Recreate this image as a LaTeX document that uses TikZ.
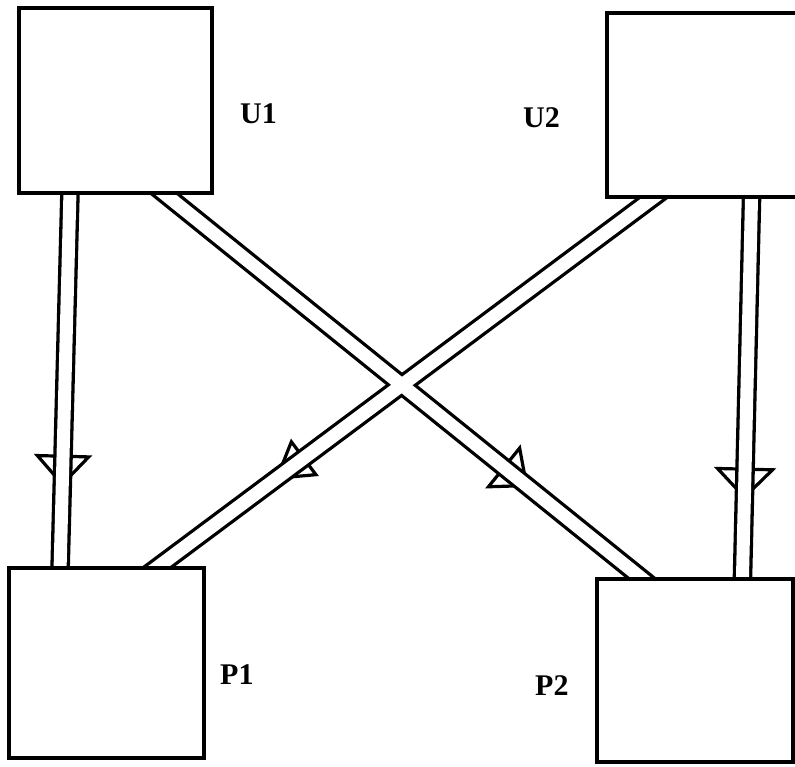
\documentclass[tikz,border=0pt]{standalone}
\usepackage{fontspec}
\setmainfont{Liberation Serif}
\usetikzlibrary{arrows.meta,decorations.markings,calc,backgrounds}

\tikzset{
  box/.style={draw, line width=3.4pt, inner sep=0pt, outer sep=0pt},
  lbl/.style={font=\fontsize{30}{36}\selectfont\bfseries, anchor=base west, inner sep=0pt},
  flowmark/.style n args={3}{decorate, decoration={markings,
      mark=at position #1 with {\arrow{Triangle[open, length=#2, width=#3, line width=3.2pt]}}}},
  railout/.style={draw=black, line width=19.6pt, shorten <=-14pt, shorten >=-14pt},
  railin/.style={draw=white, line width=13pt, shorten <=-14pt, shorten >=-14pt},
}

\begin{document}
\begin{tikzpicture}[x=1pt, y=-1pt]
  \clip (0,0) rectangle (795,766);

  % units and ports
  \node[box, minimum width=193pt, minimum height=185pt] (U1) at (115.5,100.5) {};
  \node[box, minimum width=193pt, minimum height=184pt] (U2) at (703.5,105) {};
  \node[box, minimum width=195pt, minimum height=190pt] (P1) at (106.5,663) {};
  \node[box, minimum width=196pt, minimum height=183pt] (P2) at (695,670.5) {};

  \node[lbl] (tU1) at (240,123) {U1};
  \node[lbl] (tU2) at (523,127) {U2};
  \node[lbl] (tP1) at (220,684) {P1};
  \node[lbl] (tP2) at (535,695) {P2};

  % connector ends on the box edges
  \coordinate (u1l) at ($(U1.south west)!0.264!(U1.south east)$);
  \coordinate (u1r) at ($(U1.south west)!0.749!(U1.south east)$);
  \coordinate (u2l) at ($(U2.south west)!0.2435!(U2.south east)$);
  \coordinate (u2r) at ($(U2.south west)!0.749!(U2.south east)$);
  \coordinate (p1l) at ($(P1.north west)!0.262!(P1.north east)$);
  \coordinate (p1r) at ($(P1.north west)!0.756!(P1.north east)$);
  \coordinate (p2l) at ($(P2.north west)!0.232!(P2.north east)$);
  \coordinate (p2r) at ($(P2.north west)!0.742!(P2.north east)$);

  \begin{scope}[on background layer]
    % open arrowheads, partly hidden by the rails
    \path[flowmark={0.783}{32pt}{58pt}] (u1l) -- (p1l);
    \path[flowmark={0.792}{32pt}{62pt}] (u2r) -- (p2r);
    \path[flowmark={0.762}{33pt}{56pt}] (u1r) -- (p2l);
    \path[flowmark={0.763}{38pt}{46pt}] (u2l) -- (p1r);
    % double rails, cut square at the box edges
    \begin{scope}
      \clip (0,0 |- U1.south) -- (U1.south east) |- (U2.south west)
            -- (U2.south east) |- (P2.north east) -- (P2.north west)
            |- (P1.north east) -- (0,0 |- P1.north) -- cycle;
      \foreach \a/\b in {u1l/p1l, u2r/p2r, u1r/p2l, u2l/p1r}
        \draw[railout] (\a) -- (\b);
      \foreach \a/\b in {u1l/p1l, u2r/p2r, u1r/p2l, u2l/p1r}
        \draw[railin] (\a) -- (\b);
    \end{scope}
  \end{scope}
\end{tikzpicture}
\end{document}
